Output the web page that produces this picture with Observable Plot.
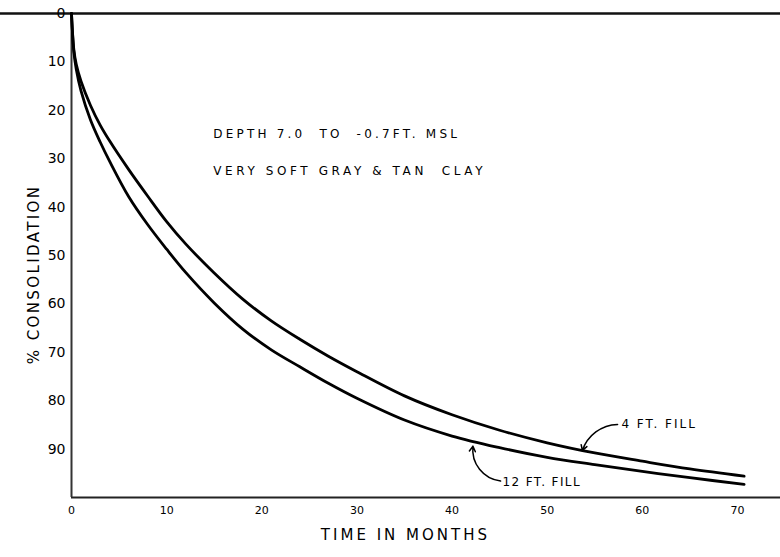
<!DOCTYPE html>
<html><head><meta charset="utf-8">
<script src="https://cdn.jsdelivr.net/npm/d3@7"></script>
<script src="https://cdn.jsdelivr.net/npm/@observablehq/plot@0.6"></script>
<style>body{margin:0;background:#fff} svg{display:block}</style>
</head><body><div id="chart"></div>
<script>
const months   = [0, 0.25, 0.5, 1, 2, 3, 4, 6, 8, 10, 12, 15, 18, 21, 24, 27, 30, 35, 40, 45, 50, 55, 60, 65, 70.7];
const fill4ft  = [0, 7.5, 10.5, 14, 19, 23, 26.3, 32.2, 37.7, 43, 47.6, 53.6, 59, 63.5, 67.3, 70.8, 74, 79, 82.9, 86.1, 88.7, 90.8, 92.5, 94.1, 95.6];
const fill12ft = [0, 8, 11.5, 16, 22, 26.5, 30.5, 37.8, 43.6, 48.7, 53.5, 59.8, 65.2, 69.5, 73, 76.4, 79.5, 84, 87.3, 89.7, 91.7, 93.2, 94.6, 95.9, 97.3];
const seriesNames = ["4 FT. FILL", "12 FT. FILL"];
const xTicks = [0, 10, 20, 30, 40, 50, 60, 70];
const yTicks = [0, 10, 20, 30, 40, 50, 60, 70, 80, 90];
const notes = ["DEPTH 7.0  TO  -0.7FT. MSL", "VERY SOFT GRAY & TAN  CLAY"];
const xTitle = "TIME IN MONTHS";
const yTitle = "% CONSOLIDATION";

const rows = [];
months.forEach((t, i) => {
  rows.push({t, c: fill4ft[i], s: seriesNames[0]});
  rows.push({t, c: fill12ft[i], s: seriesNames[1]});
});

const font = "'DejaVu Sans', sans-serif";
const chart = Plot.plot({
  width: 780, height: 557,
  marginLeft: 71, marginRight: 5, marginTop: 13, marginBottom: 60,
  style: {fontFamily: font, background: "white", color: "black"},
  x: {domain: [0, 74], label: null},
  y: {domain: [0, 100], reverse: true, label: null},
  marks: [
    Plot.ruleY([0], {insetLeft: -71, insetRight: -5, strokeWidth: 2.4, stroke: "#111"}),
    Plot.ruleY([100], {strokeWidth: 2, insetRight: -5, stroke: "#222"}),
    Plot.ruleX([0], {strokeWidth: 2, stroke: "#333"}),
    Plot.axisY({ticks: yTicks, tickSize: 0, tickPadding: 6, fontSize: 14, label: null}),
    Plot.axisX({ticks: xTicks, tickSize: 0, tickPadding: 9, fontSize: 11, label: null}),
    Plot.line(rows, {x: "t", y: "c", z: "s", curve: "catmull-rom", stroke: "black", strokeWidth: 2.8}),
    Plot.text(notes, {x: 14.9, y: [25, 32.6], text: d => d, textAnchor: "start", fontSize: 12, fill: "black"}),
    Plot.text([seriesNames[0]], {x: 57.8, y: 84.9, textAnchor: "start", fontSize: 12}),
    Plot.text([seriesNames[1]], {x: 45.3, y: 96.8, textAnchor: "start", fontSize: 12}),
    Plot.arrow([0], {x1: 57.4, y1: 84.9, x2: 53.7, y2: 90.3, bend: -35, headLength: 6, strokeWidth: 1.5}),
    Plot.arrow([0], {x1: 45.1, y1: 96.6, x2: 42.2, y2: 89.4, bend: 45, headLength: 6, strokeWidth: 1.5}),
    Plot.text([xTitle], {x: 35.1, frameAnchor: "bottom", dy: 42, fontSize: 15}),
    Plot.text([yTitle], {y: 53.9, frameAnchor: "left", textAnchor: "middle", dx: -37, rotate: -90, fontSize: 15})
  ]
});
const spacing = new Map([
  [notes[0], "3.2px"], [notes[1], "3.6px"],
  [seriesNames[0], "2px"], [seriesNames[1], "1.4px"],
  [xTitle, "3px"], [yTitle, "2.4px"]
]);
d3.select(chart).selectAll("text").each(function() {
  const s = spacing.get(this.textContent);
  if (s) this.setAttribute("letter-spacing", s);
});
document.getElementById("chart").appendChild(chart);
</script>
</body></html>
